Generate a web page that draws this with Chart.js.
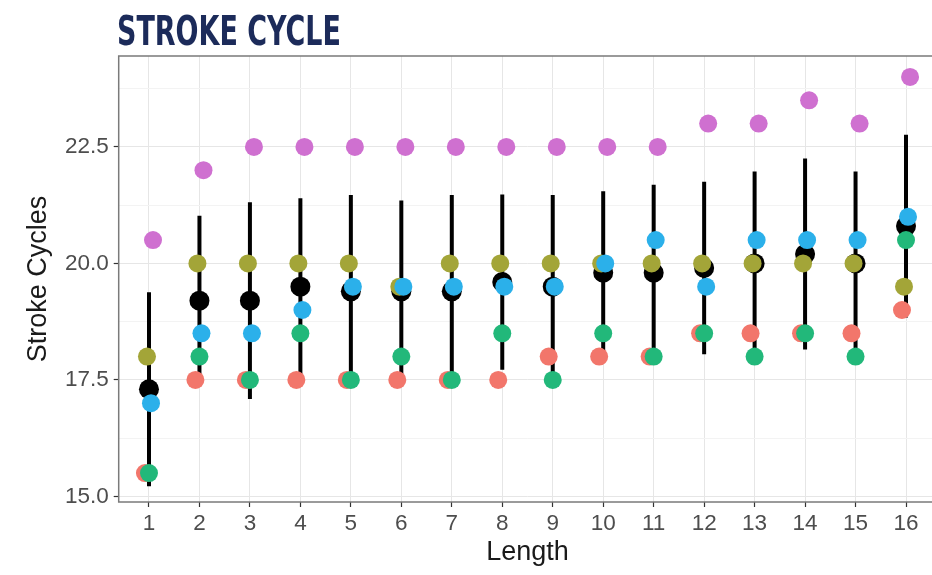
<!DOCTYPE html>
<html>
<head>
<meta charset="utf-8">
<script src="https://cdn.jsdelivr.net/npm/chart.js@4"></script>
<style>
  html, body { margin: 0; padding: 0; background: #fff; overflow: hidden; }
  #wrap { position: absolute; left: 0; top: 0; width: 960px; height: 575px; }
  #title {
    position: absolute; left: 117px; top: 9px;
    font-family: "Liberation Sans Narrow", "DejaVu Sans Condensed", sans-serif;
    font-weight: bold; font-size: 41px; line-height: 44px;
    color: #1c2b5a; white-space: nowrap; transform-origin: 0 0;
  }
</style>
</head>
<body>
<div id="wrap">
  <canvas id="myChart" width="960" height="575"></canvas>
  <div id="title">STROKE CYCLE</div>
</div>
<script>
// values
const lengths = [1, 2, 3, 4, 5, 6, 7, 8, 9, 10, 11, 12, 13, 14, 15, 16];
const redVals    = [15.5, 17.5, 17.5, 17.5, 17.5, 17.5, 17.5, 17.5, 18.0, 18.0, 18.0, 18.5, 18.5, 18.5, 18.5, 19.0];
const oliveVals  = [18.0, 20.0, 20.0, 20.0, 20.0, 19.5, 20.0, 20.0, 20.0, 20.0, 20.0, 20.0, 20.0, 20.0, 20.0, 19.5];
const greenVals  = [15.5, 18.0, 17.5, 18.5, 17.5, 18.0, 17.5, 18.5, 17.5, 18.5, 18.0, 18.5, 18.0, 18.5, 18.0, 20.5];
const blueVals   = [17.0, 18.5, 18.5, 19.0, 19.5, 19.5, 19.5, 19.5, 19.5, 20.0, 20.5, 19.5, 20.5, 20.5, 20.5, 21.0];
const purpleVals = [20.5, 22.0, 22.5, 22.5, 22.5, 22.5, 22.5, 22.5, 22.5, 22.5, 22.5, 23.0, 23.0, 23.5, 23.0, 24.0];
const meanVals   = [17.3, 19.2, 19.2, 19.5, 19.4, 19.4, 19.4, 19.6, 19.5, 19.8, 19.8, 19.9, 20.0, 20.2, 20.0, 20.8];
const errLow     = [15.22, 17.38, 17.09, 17.60, 17.33, 17.45, 17.33, 17.72, 17.53, 18.05, 17.91, 18.05, 18.03, 18.15, 18.03, 18.84];
const errHigh    = [19.38, 21.02, 21.31, 21.40, 21.47, 21.35, 21.47, 21.48, 21.47, 21.55, 21.69, 21.75, 21.97, 22.25, 21.97, 22.76];
const yTicks = [15.0, 17.5, 20.0, 22.5];

const groups = [
  { vals: redVals,    color: "#f2766b", dodge: -0.08, order: 5 },
  { vals: oliveVals,  color: "#a3a538", dodge: -0.04, order: 4 },
  { vals: greenVals,  color: "#22b87a", dodge: 0,     order: 3 },
  { vals: blueVals,   color: "#2bb0ea", dodge: 0.04,  order: 2 },
  { vals: purpleVals, color: "#cf70d0", dodge: 0.08,  order: 1 }
];

// squeeze the title to the width it has in the picture
const t = document.getElementById("title");
t.style.transform = "scaleX(" + (224 / t.getBoundingClientRect().width) + ")";

let errData = [];
lengths.forEach((l, i) => {
  errData.push({ x: l, y: errLow[i] }, { x: l, y: errHigh[i] }, { x: l, y: null });
});

let datasets = [{
  data: errData, showLine: true, spanGaps: false,
  borderColor: "#000", borderWidth: 4, pointRadius: 0, order: 7
}, {
  data: lengths.map((l, i) => ({ x: l, y: meanVals[i] })),
  backgroundColor: "#000", pointRadius: 10, pointBorderWidth: 0, order: 6
}];
groups.forEach(g => {
  datasets.push({
    data: lengths.map((l, i) => ({ x: l + g.dodge, y: g.vals[i] })),
    backgroundColor: g.color, pointRadius: 9, pointBorderWidth: 0, order: g.order
  });
});

const isMajor = v => yTicks.some(m => Math.abs(m - v) < 1e-6);

const panelBorder = {
  id: "panelBorder",
  afterDatasetsDraw(chart) {
    const a = chart.chartArea, c = chart.ctx;
    c.save();
    c.strokeStyle = "#7a7a7a";
    c.lineWidth = 1.5;
    c.strokeRect(a.left, a.top, a.right - a.left, a.bottom - a.top);
    c.restore();
  }
};

const tickFont = { family: "'Liberation Sans', Arial, sans-serif", size: 22.5 };
const titleFont = { family: "'Liberation Sans', Arial, sans-serif", size: 27 };

let ctx = document.getElementById("myChart").getContext("2d");
let strokeChart = new Chart(ctx, {
  type: "scatter",
  data: { datasets: datasets },
  plugins: [panelBorder],
  options: {
    responsive: false,
    devicePixelRatio: 1,
    animation: false,
    events: [],
    layout: { padding: { top: 56, right: 23.7, left: 0, bottom: 0 } },
    plugins: { legend: { display: false }, tooltip: { enabled: false } },
    scales: {
      x: {
        type: "linear", min: 0.4, max: 16.6,
        afterFit: s => { s.height = 73; },
        ticks: {
          stepSize: 1, includeBounds: false, autoSkip: false, maxRotation: 0,
          padding: 3, color: "#4d4d4d", font: tickFont,
          callback: v => String(v)
        },
        grid: { color: "#e6e6e6", lineWidth: 1, tickLength: 5, tickColor: "#333", tickWidth: 1.2 },
        border: { display: false },
        title: { display: true, text: "Length", color: "#1a1a1a", font: titleFont, padding: { top: 0, bottom: 6 } }
      },
      y: {
        type: "linear", min: 14.88, max: 24.45,
        afterFit: s => { s.width = 118.7; },
        ticks: {
          stepSize: 1.25, includeBounds: false, autoSkip: false,
          padding: 5, color: "#4d4d4d", font: tickFont,
          callback: v => isMajor(v) ? v.toFixed(1) : ""
        },
        grid: {
          color: c => (c.tick && isMajor(c.tick.value)) ? "#e6e6e6" : "#f3f3f3",
          lineWidth: 1, tickLength: 5, tickWidth: 1.2,
          tickColor: c => (c.tick && isMajor(c.tick.value)) ? "#333" : "rgba(0,0,0,0)"
        },
        border: { display: false },
        title: { display: true, text: "Stroke Cycles", color: "#1a1a1a", font: titleFont, padding: { top: 22, bottom: 0 } }
      }
    }
  }
});
</script>
</body>
</html>
